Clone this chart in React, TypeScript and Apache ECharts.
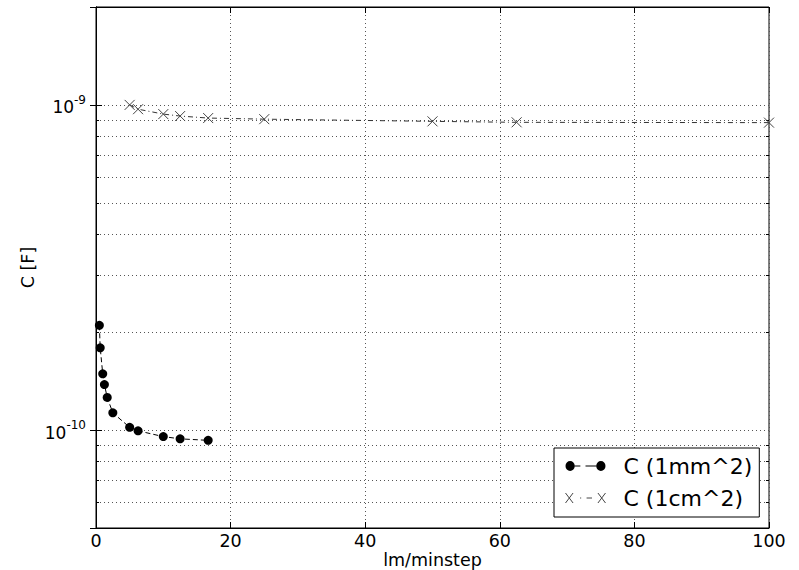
import { useEffect, useRef } from 'react';
import * as echarts from 'echarts';

// lm/minstep values and capacitance [F]
const xSmall = [0.5, 0.625, 1, 1.25, 1.667, 2.5, 5, 6.25, 10, 12.5, 16.667];
const cSmall = [2.1e-10, 1.79e-10, 1.49e-10, 1.38e-10, 1.26e-10, 1.13e-10, 1.02e-10, 0.995e-10, 0.955e-10, 0.94e-10, 0.93e-10];
const xLarge = [5, 6.25, 10, 12.5, 16.667, 25, 50, 62.5, 100];
const cLarge = [1.0e-9, 0.97e-9, 0.937e-9, 0.924e-9, 0.911e-9, 0.904e-9, 0.89e-9, 0.884e-9, 0.882e-9];

const seriesNames = ['C (1mm^2)', 'C (1cm^2)'];
const xTitle = 'lm/minstep';
const yTitle = 'C [F]';
const yMinorGrid = [6e-11, 7e-11, 8e-11, 9e-11, 2e-10, 3e-10, 4e-10, 5e-10, 6e-10, 7e-10, 8e-10, 9e-10];

const FONT = 'DejaVu Sans';
const FS = 17.5;
const GRID_STYLE = { color: '#555', width: 1, type: [1, 3] as number[] };

const ICON_DOTS = 'path://M0.5,5A4.5,4.5,0,1,0,9.5,5A4.5,4.5,0,1,0,0.5,5ZM9.5,4.5H15V5.5H9.5ZM20,4.5H30.5V5.5H20ZM30.5,5A4.5,4.5,0,1,0,39.5,5A4.5,4.5,0,1,0,30.5,5Z';
const ICON_CROSS = 'path://M1.5,1.5L8.5,8.5M1.5,8.5L8.5,1.5M15,5L16,5M21,5L26,5M31.5,1.5L38.5,8.5M31.5,8.5L38.5,1.5';

export default function App() {
  const ref = useRef<HTMLDivElement>(null);
  useEffect(() => {
    if (!ref.current) return;
    const chart = echarts.init(ref.current, undefined, { renderer: 'svg' });
    const yFmt = (v: number) => {
      const e = Math.log10(v);
      const r = Math.round(e);
      if (Math.abs(e - r) > 1e-6) return '';
      return `{b|10}{s|${r}}`;
    };
    const tickStyle = { color: '#000', width: 1, type: 'solid' };
    const markData: any[] = [];
    yMinorGrid.forEach((v) => {
      markData.push([{ coord: [0, v] }, { coord: [100, v] }]);
    });
    yMinorGrid.forEach((v) => {
      markData.push([{ coord: [0, v], lineStyle: tickStyle }, { coord: [0.45, v] }]);
      markData.push([{ coord: [99.55, v], lineStyle: tickStyle }, { coord: [100, v] }]);
    });
    const option: any = {
      animation: false,
      backgroundColor: '#fff',
      grid: {
        left: 96, right: 30, top: 7, bottom: 42,
        outerBoundsMode: 'none', containLabel: false,
        show: true, borderColor: '#000', borderWidth: 1, backgroundColor: 'transparent',
      },
      legend: {
        data: [
          { name: seriesNames[0], icon: ICON_DOTS, itemStyle: { color: '#000', borderWidth: 0 } },
          { name: seriesNames[1], icon: ICON_CROSS, itemStyle: { color: 'transparent', borderColor: '#444', borderWidth: 1 } },
        ],
        orient: 'vertical',
        left: 554,
        top: 448,
        padding: [5, 7, 6, 11],
        itemGap: 6,
        itemWidth: 40,
        itemHeight: 10,
        symbolKeepAspect: false,
        borderColor: '#000',
        borderWidth: 1,
        backgroundColor: '#fff',
        selectedMode: false,
        textStyle: { fontFamily: FONT, fontSize: 22, color: '#000', lineHeight: 26, padding: [0, 0, 0, 13] },
      },
      xAxis: [
        {
          type: 'value', min: 0, max: 100, interval: 20,
          name: xTitle, nameLocation: 'middle', nameGap: 23, nameMoveOverlap: false,
          nameTextStyle: { fontFamily: FONT, fontSize: FS, color: '#000', lineHeight: 18 },
          axisLine: { show: true, lineStyle: { color: '#000' } },
          axisTick: { show: true, inside: true, length: 6, lineStyle: { color: '#000' } },
          axisLabel: { fontFamily: FONT, fontSize: FS, color: '#000', margin: 4 },
          splitLine: { show: true, lineStyle: GRID_STYLE },
        },
        {
          type: 'value', min: 0, max: 100, interval: 20, position: 'top',
          axisLine: { show: true, lineStyle: { color: '#000' } },
          axisTick: { show: true, inside: true, length: 6, lineStyle: { color: '#000' } },
          axisLabel: { show: false },
          splitLine: { show: false },
        },
      ],
      yAxis: [
        {
          type: 'log', logBase: 10, min: 5e-11, max: 2e-9,
          name: yTitle, nameLocation: 'middle', nameGap: 59, nameMoveOverlap: false,
          nameTextStyle: { fontFamily: FONT, fontSize: FS, color: '#000' },
          axisLine: { show: true, lineStyle: { color: '#000' } },
          axisTick: { show: true, inside: true, length: 6, lineStyle: { color: '#000' } },
          axisLabel: {
            formatter: yFmt, margin: 10,
            rich: {
              b: { fontFamily: FONT, fontSize: 17, color: '#000', lineHeight: 22, verticalAlign: 'bottom' },
              s: { fontFamily: FONT, fontSize: 12, color: '#000', lineHeight: 22, verticalAlign: 'top' },
            },
          },
          splitLine: { show: true, lineStyle: GRID_STYLE },
        },
        {
          type: 'log', logBase: 10, min: 5e-11, max: 2e-9, position: 'right',
          axisLine: { show: true, lineStyle: { color: '#000' } },
          axisTick: { show: true, inside: true, length: 6, lineStyle: { color: '#000' } },
          axisLabel: { show: false },
          splitLine: { show: false },
        },
      ],
      series: [
        {
          name: 'grid-minor', type: 'line', data: [[50, 1e-10]], showSymbol: false, z: 1, silent: true,
          lineStyle: { opacity: 0 },
          markLine: {
            silent: true, symbol: ['none', 'none'], label: { show: false }, z: 1,
            lineStyle: GRID_STYLE,
            data: markData,
          },
        },
        {
          name: seriesNames[0], type: 'line',
          data: xSmall.map((x, i) => [x, cSmall[i]]),
          symbol: 'circle', symbolSize: 9, showAllSymbol: true,
          itemStyle: { color: '#000' },
          lineStyle: { color: '#000', width: 1, type: [5, 3] },
          z: 3,
        },
        {
          name: seriesNames[1], type: 'line',
          data: xLarge.map((x, i) => [x, cLarge[i]]),
          symbol: 'path://M0,0L10,10M0,10L10,0', symbolSize: 10, showAllSymbol: true,
          itemStyle: { color: 'transparent', borderColor: '#444', borderWidth: 1 },
          lineStyle: { color: '#333', width: 1, type: [5, 3, 1, 3] },
          z: 3,
        },
      ],
    };
    chart.setOption(option);
    return () => chart.dispose();
  }, []);
  return <div ref={ref} style={{ position: 'absolute', left: 0, top: 0, width: 799, height: 570 }} />;
}
